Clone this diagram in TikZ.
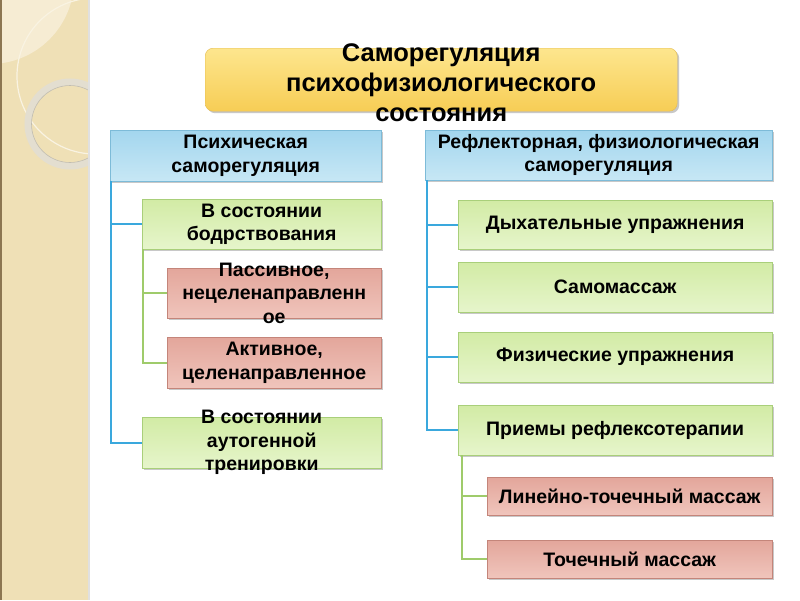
\documentclass[tikz,border=0pt]{standalone}
\usepackage{fontspec}
\setmainfont{Liberation Sans}
\usepackage{tikz}
\usetikzlibrary{calc,positioning,shadows}
\definecolor{bandcol}{HTML}{EFE0B6}
\definecolor{bandlight}{HTML}{F6ECD3}
\definecolor{bandedge}{HTML}{8C7652}
\definecolor{ringcol}{HTML}{E3DED0}
\definecolor{titletop}{HTML}{FDE68E}
\definecolor{titlebot}{HTML}{F7CD55}
\definecolor{titleline}{HTML}{E5BC50}
\definecolor{headtop}{HTML}{A3D6EE}
\definecolor{headbot}{HTML}{C7E7F5}
\definecolor{headline}{HTML}{7DBBD8}
\definecolor{grntop}{HTML}{D2EBA5}
\definecolor{grnbot}{HTML}{E6F5CB}
\definecolor{grnline}{HTML}{A9CF7A}
\definecolor{pinktop}{HTML}{E3A69B}
\definecolor{pinkbot}{HTML}{F0C5BC}
\definecolor{pinkline}{HTML}{C4857A}
\definecolor{bluelinkcol}{HTML}{3AA8DD}
\definecolor{grnlinkcol}{HTML}{9FCB6B}
\tikzset{
  box/.style={draw, inner sep=0pt, align=center, anchor=north west,
    font=\bfseries\fontsize{19.5}{23.5}\selectfont,
    drop shadow={shadow xshift=2pt, shadow yshift=-2pt, opacity=0.3, fill=black!70}},
  titlebox/.style={box, rounded corners=8pt, draw=titleline, top color=titletop, bottom color=titlebot},
  headbox/.style={box, draw=headline, top color=headtop, bottom color=headbot},
  grnbox/.style={box, draw=grnline, top color=grntop, bottom color=grnbot},
  pinkbox/.style={box, draw=pinkline, top color=pinktop, bottom color=pinkbot},
  boxtext/.style={align=center, inner sep=0pt, font=\bfseries\fontsize{19.5}{23.5}\selectfont},
  bluelink/.style={draw=bluelinkcol, line width=2.4pt},
  grnlink/.style={draw=grnlinkcol, line width=2.4pt}
}
\begin{document}
\begin{tikzpicture}[x=1pt,y=-1pt]
    \useasboundingbox (0,0) rectangle (800,600);
    \fill[white] (0,0) rectangle (800,600);
    % side band
    \fill[bandcol] (0,0) rectangle (88,600);
    \begin{scope}
      \clip (0,0) rectangle (88,600);
      \fill[bandlight] (-10,-20) circle (84);
      \draw[white!60!bandcol, line width=1.2pt] (95,76) circle (78);
      \draw[ringcol, line width=7pt] (70,124) circle (42);
      \draw[black!15!ringcol, line width=0.6pt] (70,124) circle (38.5);
    \end{scope}
    \fill[bandedge] (0,0) rectangle (2,600);
    \fill[black!12] (88,0) rectangle (90,600);

    \node (T) [titlebox,minimum width=472,minimum height=63,
      label={[boxtext,font=\bfseries\fontsize{25.5}{30}\selectfont,yshift=-3pt]center:Саморегуляция\\психофизиологического\\состояния}]
      at (205,48) {};

    \node (L) [headbox,minimum width=271,minimum height=51] at (110,130)
      {Психическая\\саморегуляция};
    \node (R) [headbox,minimum width=347,minimum height=50] at (425,130)
      {Рефлекторная, физиологическая\\саморегуляция};

    \node (L1) [grnbox,minimum width=239,minimum height=50] at (142,199)
      {В состоянии\\бодрствования};
    \node (L2) [pinkbox,minimum width=214,minimum height=50,
      label={[boxtext]center:Пассивное,\\нецеленаправленн\\ое}]
      at (167,268) {};
    \node (L3) [pinkbox,minimum width=214,minimum height=51] at (167,337)
      {Активное,\\целенаправленное};
    \node (L4) [grnbox,minimum width=239,minimum height=51,
      label={[boxtext]center:В состоянии\\аутогенной\\тренировки}]
      at (142,417) {};

    \node (R1) [grnbox,minimum width=314,minimum height=49] at (458,200)
      {Дыхательные упражнения};
    \node (R2) [grnbox,minimum width=314,minimum height=50] at (458,262)
      {Самомассаж};
    \node (R3) [grnbox,minimum width=314,minimum height=50] at (458,332)
      {Физические упражнения};
    \node (R4) [grnbox,minimum width=314,minimum height=50] at (458,405)
      {Приемы рефлексотерапии};
    \node (R5) [pinkbox,minimum width=285,minimum height=38] at (487,477)
      {Линейно-точечный массаж};
    \node (R6) [pinkbox,minimum width=285,minimum height=38] at (487,540)
      {Точечный массаж};

    % connectors
    \draw[bluelink] ($(L.south west)+(1,0)$) |- (L1.west);
    \draw[bluelink] ($(L.south west)+(1,0)$) |- (L4.west);
    \draw[grnlink] ($(L1.south west)+(1,0)$) |- (L2.west);
    \draw[grnlink] ($(L1.south west)+(1,0)$) |- (L3.west);
    \foreach \n in {R1,R2,R3,R4}
      \draw[bluelink] ($(R.south west)+(2,0)$) |- (\n.west);
    \draw[grnlink] ($(R4.south west)+(4,0)$) |- (R5.west);
    \draw[grnlink] ($(R4.south west)+(4,0)$) |- (R6.west);
\end{tikzpicture}
\end{document}
